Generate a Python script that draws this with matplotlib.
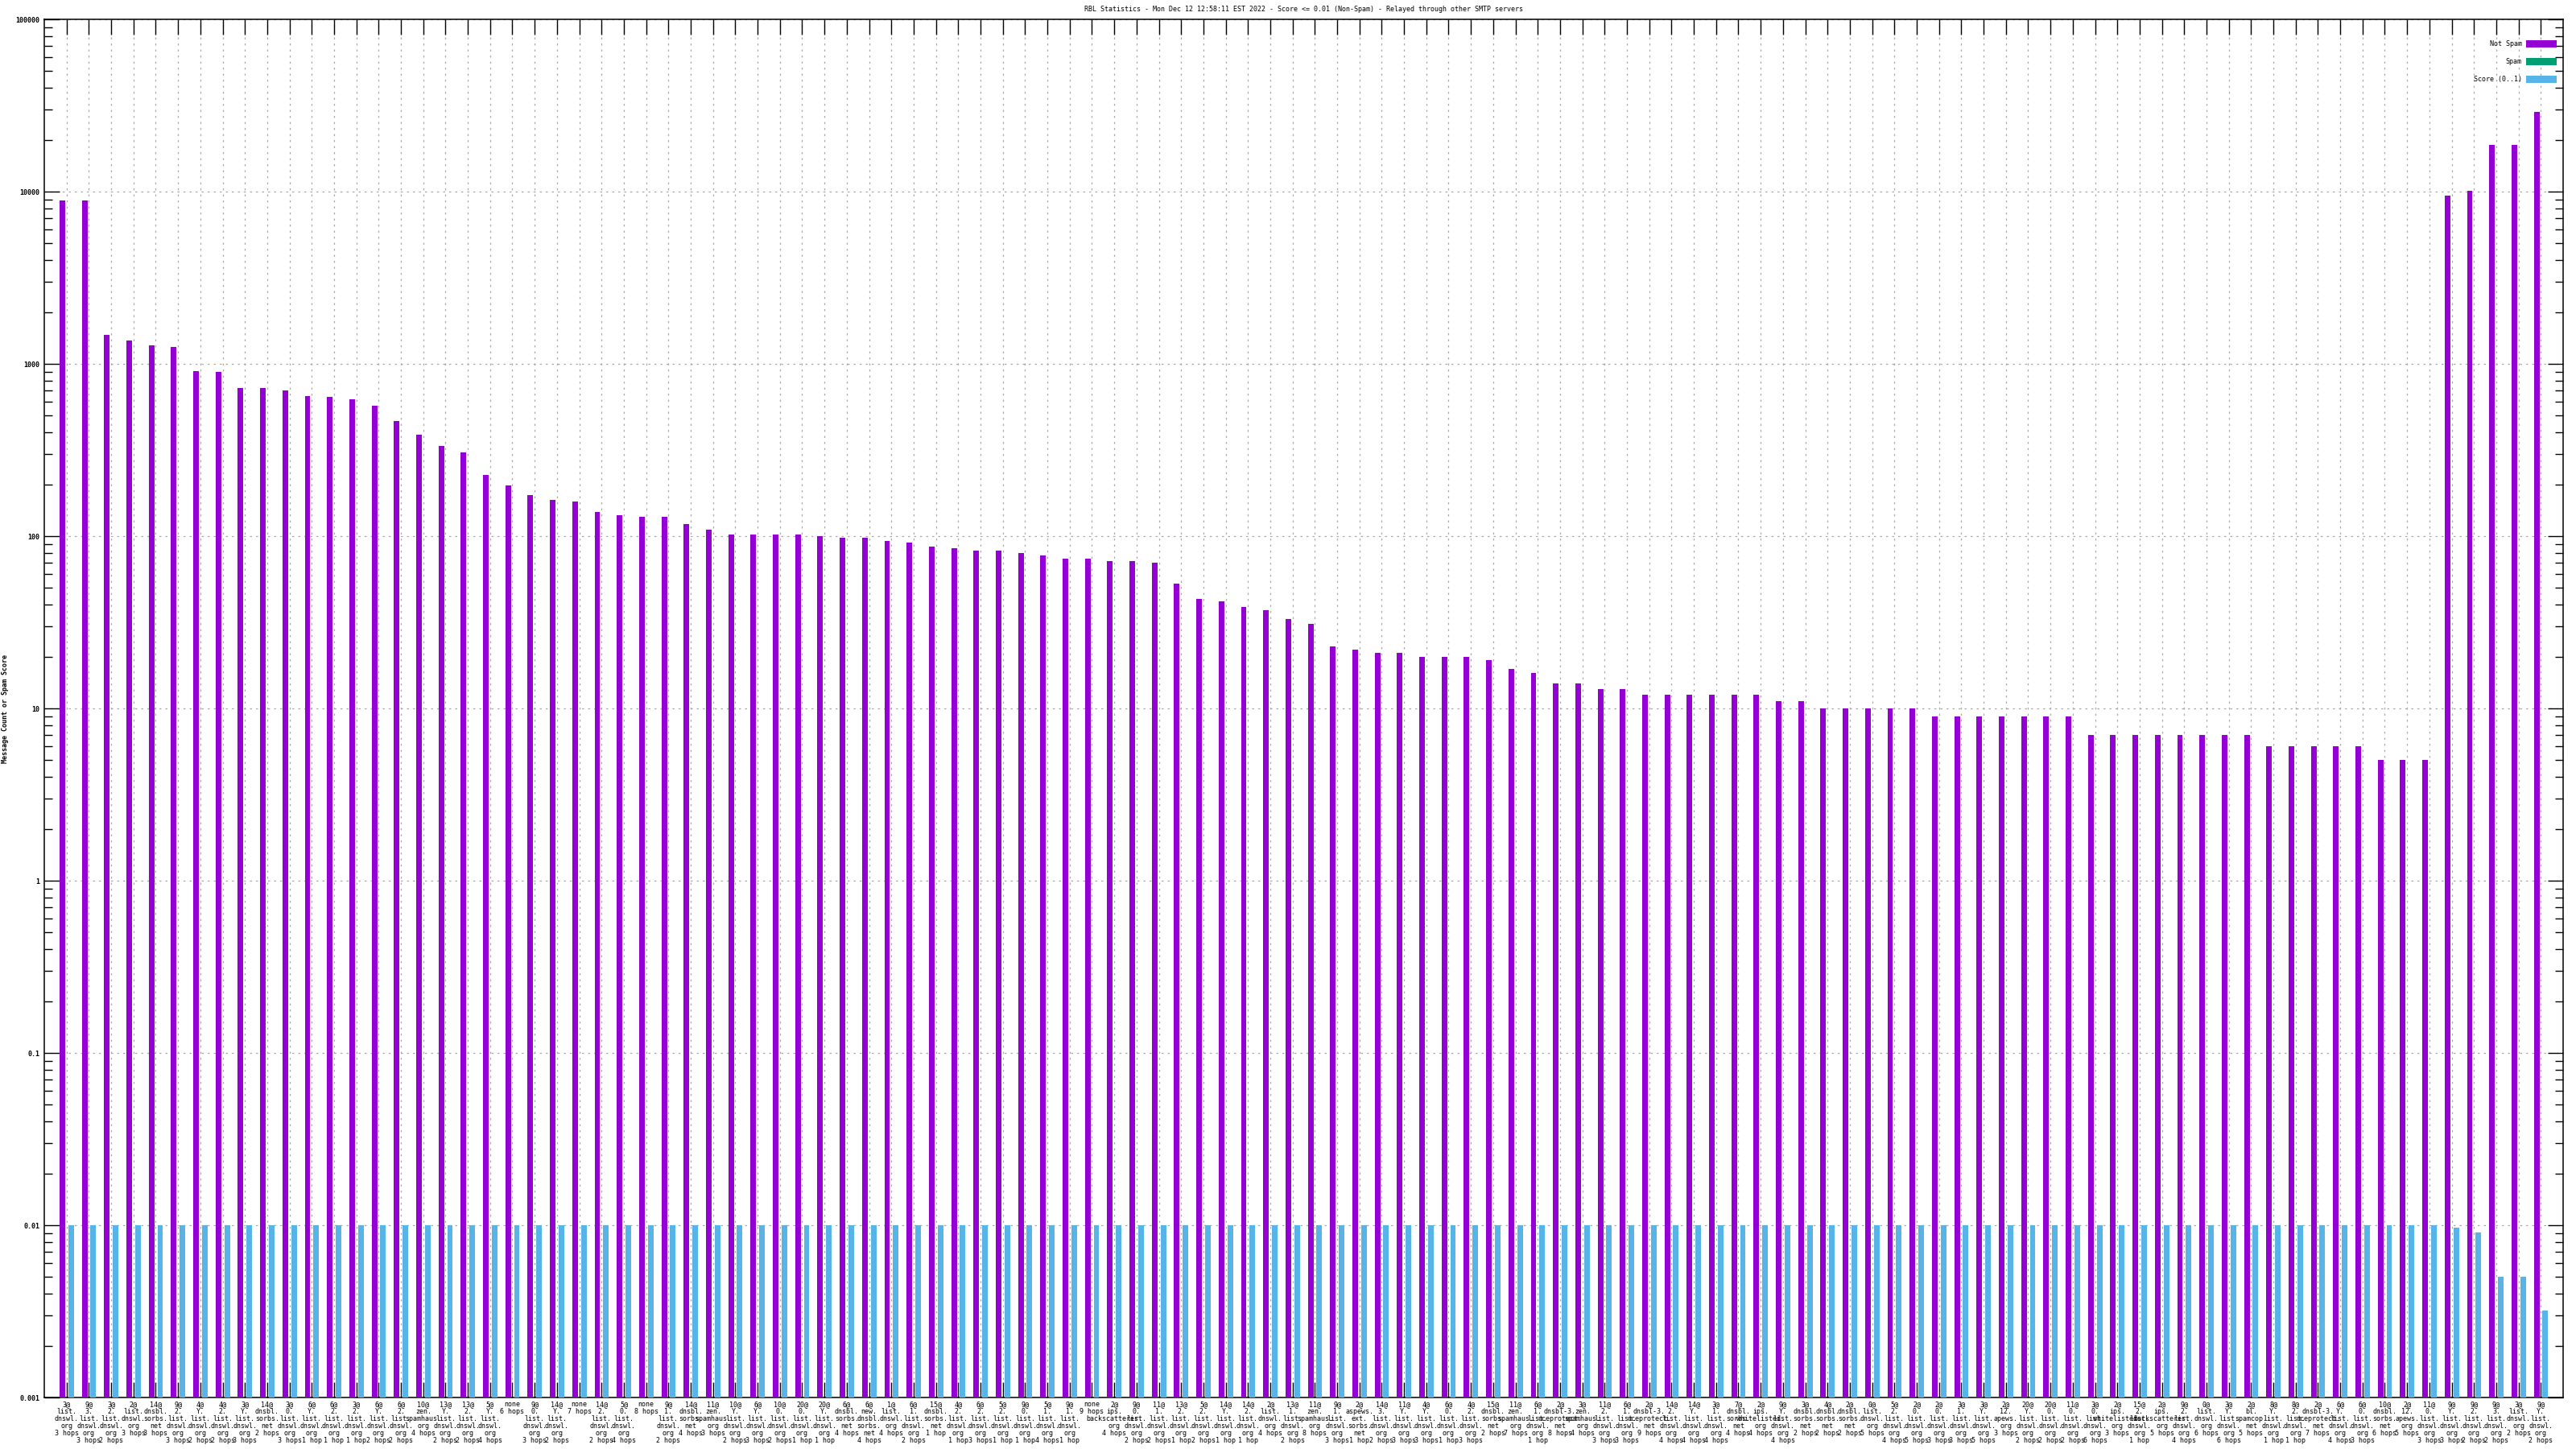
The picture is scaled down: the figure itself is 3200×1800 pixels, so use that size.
import numpy as np
import matplotlib
matplotlib.use('Agg')
import matplotlib.pyplot as plt
from matplotlib.ticker import FixedLocator, NullFormatter

TITLE = ("RBL Statistics - Mon Dec 12 12:58:11 EST 2022 - Score <= 0.01 (Non-Spam)"
         " - Relayed through other SMTP servers")

# per-bar label parts: "<count>@ <host> <hops>"
counts = ["3@", "9@", "3@", "2@", "14@", "9@", "4@", "4@", "3@", "14@",
          "3@", "6@", "6@", "3@", "6@", "6@", "10@", "13@", "13@", "5@",
          "none", "9@", "14@", "none", "14@", "5@", "none", "9@", "14@", "11@",
          "10@", "6@", "10@", "20@", "20@", "6@", "6@", "1@", "6@", "15@",
          "4@", "6@", "5@", "9@", "5@", "9@", "none", "2@", "9@", "11@",
          "13@", "5@", "14@", "14@", "2@", "13@", "11@", "9@", "2@", "14@",
          "11@", "4@", "6@", "4@", "15@", "11@", "6@", "2@", "3@", "11@",
          "6@", "2@", "14@", "14@", "3@", "7@", "2@", "9@", "3@", "4@",
          "2@", "0@", "5@", "2@", "2@", "3@", "3@", "2@", "20@", "20@",
          "11@", "3@", "2@", "15@", "2@", "9@", "0@", "3@", "2@", "8@",
          "8@", "2@", "6@", "6@", "10@", "2@", "11@", "9@", "9@", "9@",
          "3@", "9@"]

hosts = ["list.dnswl.org", "3.list.dnswl.org", "2.list.dnswl.org", "list.dnswl.org",
         "dnsbl.sorbs.net", "2.list.dnswl.org", "Y.list.dnswl.org", "2.list.dnswl.org",
         "Y.list.dnswl.org", "dnsbl.sorbs.net", "0.list.dnswl.org", "Y.list.dnswl.org",
         "2.list.dnswl.org", "2.list.dnswl.org", "Y.list.dnswl.org", "2.list.dnswl.org",
         "zen.spamhaus.org", "Y.list.dnswl.org", "2.list.dnswl.org", "Y.list.dnswl.org",
         "", "0.list.dnswl.org", "Y.list.dnswl.org", "",
         "2.list.dnswl.org", "0.list.dnswl.org", "", "1.list.dnswl.org",
         "dnsbl.sorbs.net", "zen.spamhaus.org", "Y.list.dnswl.org", "Y.list.dnswl.org",
         "0.list.dnswl.org", "0.list.dnswl.org", "Y.list.dnswl.org", "dnsbl.sorbs.net",
         "new.dnsbl.sorbs.net", "list.dnswl.org", "1.list.dnswl.org", "dnsbl.sorbs.net",
         "2.list.dnswl.org", "2.list.dnswl.org", "2.list.dnswl.org", "0.list.dnswl.org",
         "1.list.dnswl.org", "1.list.dnswl.org", "", "ips.backscatterer.org",
         "0.list.dnswl.org", "1.list.dnswl.org", "2.list.dnswl.org", "2.list.dnswl.org",
         "Y.list.dnswl.org", "2.list.dnswl.org", "list.dnswl.org", "1.list.dnswl.org",
         "zen.spamhaus.org", "1.list.dnswl.org", "aspews.ext.sorbs.net", "3.list.dnswl.org",
         "Y.list.dnswl.org", "Y.list.dnswl.org", "0.list.dnswl.org", "2.list.dnswl.org",
         "dnsbl.sorbs.net", "zen.spamhaus.org", "1.list.dnswl.org", "dnsbl-3.uceprotect.net",
         "zen.spamhaus.org", "2.list.dnswl.org", "1.list.dnswl.org", "dnsbl-3.uceprotect.net",
         "2.list.dnswl.org", "Y.list.dnswl.org", "1.list.dnswl.org", "dnsbl.sorbs.net",
         "ips.whitelisted.org", "Y.list.dnswl.org", "dnsbl.sorbs.net", "dnsbl.sorbs.net",
         "dnsbl.sorbs.net", "list.dnswl.org", "2.list.dnswl.org", "0.list.dnswl.org",
         "0.list.dnswl.org", "1.list.dnswl.org", "Y.list.dnswl.org", "12.apews.org",
         "Y.list.dnswl.org", "0.list.dnswl.org", "0.list.dnswl.org", "0.list.dnswl.org",
         "ips.whitelisted.org", "2.list.dnswl.org", "ips.backscatterer.org", "2.list.dnswl.org",
         "list.dnswl.org", "Y.list.dnswl.org", "bl.spamcop.net", "Y.list.dnswl.org",
         "2.list.dnswl.org", "dnsbl-3.uceprotect.net", "Y.list.dnswl.org", "0.list.dnswl.org",
         "dnsbl.sorbs.net", "12.apews.org", "0.list.dnswl.org", "Y.list.dnswl.org",
         "2.list.dnswl.org", "3.list.dnswl.org", "list.dnswl.org", "Y.list.dnswl.org"]

hops = ["3 hops", "3 hops", "2 hops", "3 hops", "3 hops", "3 hops", "2 hops", "2 hops",
        "3 hops", "2 hops", "3 hops", "1 hop", "1 hop", "1 hop", "2 hops", "2 hops",
        "4 hops", "2 hops", "2 hops", "4 hops", "6 hops", "3 hops", "2 hops", "7 hops",
        "2 hops", "4 hops", "8 hops", "2 hops", "4 hops", "3 hops", "2 hops", "3 hops",
        "2 hops", "1 hop", "1 hop", "4 hops", "4 hops", "4 hops", "2 hops", "1 hop",
        "1 hop", "3 hops", "1 hop", "1 hop", "4 hops", "1 hop", "9 hops", "4 hops",
        "2 hops", "2 hops", "1 hop", "2 hops", "1 hop", "1 hop", "4 hops", "2 hops",
        "8 hops", "3 hops", "1 hop", "2 hops", "3 hops", "3 hops", "1 hop", "3 hops",
        "2 hops", "7 hops", "1 hop", "8 hops", "4 hops", "3 hops", "3 hops", "9 hops",
        "4 hops", "4 hops", "4 hops", "4 hops", "4 hops", "4 hops", "2 hops", "2 hops",
        "2 hops", "5 hops", "4 hops", "5 hops", "3 hops", "3 hops", "5 hops", "3 hops",
        "2 hops", "2 hops", "2 hops", "6 hops", "3 hops", "1 hop", "5 hops", "4 hops",
        "6 hops", "6 hops", "5 hops", "1 hop", "1 hop", "7 hops", "4 hops", "3 hops",
        "6 hops", "5 hops", "3 hops", "3 hops", "2 hops", "2 hops", "2 hops", "2 hops"]

not_spam = [8900, 8900, 1466, 1372, 1285, 1260, 904, 900, 725, 725,
            700, 650, 640, 620, 570, 468, 390, 335, 305, 226,
            198, 173, 163, 158, 138, 132, 130, 130, 117, 109,
            102, 102, 102, 102, 100, 98, 98, 94, 92, 87,
            85, 82, 82, 80, 77, 74, 74, 72, 72, 70,
            53, 43, 42, 39, 37, 33, 31, 23, 22, 21,
            21, 20, 20, 20, 19, 17, 16, 14, 14, 13,
            13, 12, 12, 12, 12, 12, 12, 11, 11, 10,
            10, 10, 10, 10, 9, 9, 9, 9, 9, 9,
            9, 7, 7, 7, 7, 7, 7, 7, 7, 6,
            6, 6, 6, 6, 5, 5, 5, 9500, 10100, 18700,
            18700, 29000]
spam = [0] * len(not_spam)
score = [0.01] * 107 + [0.0097, 0.0091, 0.005, 0.005, 0.0032]


def make_label(c, h, n):
    if not h:
        return c + "\n" + n
    parts = h.split(".")
    lines = [p + "." for p in parts[:-1]] + [parts[-1]]
    return "\n".join([c] + lines + [n])


labels = [make_label(c, h, n) for c, h, n in zip(counts, hosts, hops)]

FONT = "DejaVu Sans Mono"
FS = 6.0
plt.rcParams["font.family"] = FONT

fig = plt.figure(figsize=(32, 18), dpi=100)
ax = fig.add_axes([55 / 3200, 1 - 1736 / 1800, (3184 - 55) / 3200, (1736 - 24) / 1800])

x = np.arange(len(not_spam))
ax.bar(x - 0.19, not_spam, width=0.25, color="#9400d3", label="Not Spam", zorder=3)
ax.bar(x, spam, width=0.25, color="#009e73", label="Spam", zorder=3)
ax.bar(x + 0.2, score, width=0.25, color="#56b4e9", label="Score (0..1)", zorder=3)

ax.set_yscale("log")
ax.set_ylim(1e-3, 1e5)
ax.set_xlim(-1, len(not_spam))

yt = [1e-3, 1e-2, 1e-1, 1, 10, 100, 1000, 10000, 100000]
ax.set_yticks(yt, ["0.001", "0.01", "0.1", "1", "10", "100", "1000", "10000", "100000"])
minor = [k * 10.0 ** d for d in range(-3, 5) for k in range(2, 10)]
ax.yaxis.set_minor_locator(FixedLocator(minor))
ax.yaxis.set_minor_formatter(NullFormatter())
ax.set_xticks(x, labels)
ax.xaxis.set_minor_locator(FixedLocator([]))

ax.tick_params(axis="both", which="major", direction="in", length=13.5, width=1.0,
               top=True, right=True, labelsize=FS, pad=4)
ax.tick_params(axis="y", which="minor", direction="in", length=7, width=1.0, right=True)
ax.tick_params(axis="x", which="major", pad=3)
for t in ax.get_xticklabels():
    t.set_linespacing(1.0)
    t.set_verticalalignment("top")
for t in ax.get_yticklabels():
    t.set_fontweight("bold")

ax.grid(True, which="major", color="#a8a8a8", linestyle=(0, (2, 4)), linewidth=0.9)
ax.set_axisbelow(True)
for s in ax.spines.values():
    s.set_linewidth(1.1)

fig.text(0.506, 1 - 12 / 1800, TITLE, ha="center", va="center", fontsize=FS)
fig.text(7 / 3200, 1 - 880 / 1800, "Message Count or Spam Score", rotation=90,
         ha="center", va="center", fontsize=FS, fontweight="bold")

ax.legend(loc="upper right", bbox_to_anchor=(3176 / 3200, 1 - 50 / 1800),
          bbox_transform=fig.transFigure, frameon=False, markerfirst=False,
          handlelength=4.6, handleheight=1.3, handletextpad=0.6, labelspacing=1.5,
          borderpad=0, borderaxespad=0, fontsize=FS)

fig.savefig("out.png", dpi=100)
